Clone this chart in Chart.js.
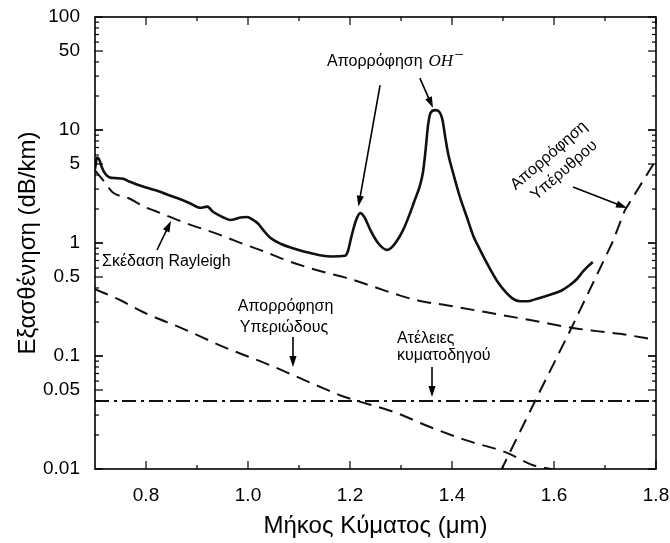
<!DOCTYPE html>
<html>
<head>
<meta charset="utf-8">
<script src="https://cdn.jsdelivr.net/npm/chart.js@4/dist/chart.umd.min.js"></script>
<style>
  html, body { margin: 0; padding: 0; background: #ffffff; }
  #wrap { width: 670px; height: 543px; }
</style>
</head>
<body>
<div id="wrap"><canvas id="loss" width="670" height="543"></canvas></div>
<script>
// Measured total attenuation of the fibre (µm, dB/km)
const wavelengthTotal = [0.700, 0.704, 0.708, 0.714, 0.720, 0.729, 0.740, 0.755, 0.767, 0.782, 0.800, 0.822, 0.840, 0.861, 0.886, 0.906, 0.920, 0.932, 0.950, 0.965, 0.985, 0.998, 1.010, 1.020, 1.030, 1.043, 1.065, 1.088, 1.115, 1.141, 1.165, 1.190, 1.196, 1.203, 1.212, 1.220, 1.228, 1.240, 1.255, 1.272, 1.285, 1.304, 1.318, 1.327, 1.336, 1.343, 1.348, 1.353, 1.358, 1.367, 1.375, 1.381, 1.387, 1.393, 1.402, 1.415, 1.429, 1.442, 1.455, 1.472, 1.490, 1.505, 1.520, 1.533, 1.548, 1.565, 1.580, 1.598, 1.615, 1.630, 1.645, 1.657, 1.668, 1.676];
const lossTotal = [4.5, 5.7, 5.5, 4.6, 4.1, 3.8, 3.75, 3.7, 3.5, 3.3, 3.1, 2.9, 2.7, 2.5, 2.25, 2.05, 2.1, 1.88, 1.7, 1.6, 1.68, 1.70, 1.6, 1.48, 1.30, 1.12, 0.98, 0.90, 0.83, 0.78, 0.76, 0.77, 0.85, 1.15, 1.6, 1.84, 1.7, 1.3, 1.0, 0.87, 0.95, 1.30, 1.85, 2.4, 3.1, 4.2, 6.5, 11, 14.2, 15.0, 14.5, 12.5, 8.5, 6.0, 4.2, 2.6, 1.70, 1.15, 0.87, 0.62, 0.45, 0.37, 0.32, 0.305, 0.305, 0.32, 0.335, 0.355, 0.38, 0.42, 0.48, 0.56, 0.63, 0.68];

// Rayleigh scattering
const wavelengthRayleigh = [0.700, 0.718, 0.735, 0.765, 0.798, 0.818, 0.873, 0.945, 0.996, 1.029, 1.069, 1.116, 1.157, 1.194, 1.292, 1.333, 1.392, 1.508, 1.553, 1.637, 1.684, 1.729, 1.800];
const lossRayleigh = [4.4, 3.5, 2.8, 2.5, 2.08, 1.92, 1.53, 1.18, 0.96, 0.85, 0.72, 0.61, 0.54, 0.49, 0.35, 0.31, 0.28, 0.226, 0.208, 0.177, 0.166, 0.157, 0.139];

// Ultraviolet absorption tail
const wavelengthUV = [0.700, 0.749, 0.794, 0.873, 0.953, 1.043, 1.078, 1.147, 1.180, 1.294, 1.347, 1.427, 1.508, 1.559, 1.594, 1.620];
const lossUV = [0.39, 0.313, 0.245, 0.174, 0.12, 0.083, 0.071, 0.052, 0.045, 0.031, 0.0245, 0.018, 0.0139, 0.0108, 0.0100, 0.0092];

// Infrared absorption edge
const wavelengthIR = [1.495, 1.563, 1.635, 1.714, 1.739, 1.795];
const lossIR = [0.0095, 0.04, 0.18, 1.0, 1.95, 5.0];

// Waveguide imperfections
const wavelengthDefects = [0.7, 1.8];
const lossDefects = [0.04, 0.04];

// Axis ticks
const xTickValues = [0.8, 1.0, 1.2, 1.4, 1.6, 1.8];
const xMinorValues = [0.9, 1.1, 1.3, 1.5, 1.7];
const yTickValues = [0.01, 0.05, 0.1, 0.5, 1, 5, 10, 50, 100];

const toPoints = (xs, ys) => xs.map((x, i) => ({ x: x, y: ys[i] }));
const FONT = '"Liberation Sans", Arial, sans-serif';
const SERIF = '"Liberation Serif", "DejaVu Serif", serif';
const INK = '#111111';

// Frame, inward ticks and annotations
const decorations = {
  id: 'decorations',
  afterDatasetsDraw(chart) {
    const { ctx, chartArea: a, scales: { x, y } } = chart;
    ctx.save();
    ctx.strokeStyle = '#000';
    ctx.lineWidth = 1.6;
    ctx.strokeRect(a.left, a.top, a.right - a.left, a.bottom - a.top);

    ctx.lineWidth = 1.2;
    const tick = (x1, y1, x2, y2) => { ctx.beginPath(); ctx.moveTo(x1, y1); ctx.lineTo(x2, y2); ctx.stroke(); };
    xTickValues.forEach(v => { const px = x.getPixelForValue(v); tick(px, a.bottom, px, a.bottom - 8); tick(px, a.top, px, a.top + 8); });
    xMinorValues.forEach(v => { const px = x.getPixelForValue(v); tick(px, a.bottom, px, a.bottom - 4); tick(px, a.top, px, a.top + 4); });
    for (let e = -2; e <= 1; e++) {
      for (let m = 1; m <= 10; m++) {
        const v = m * Math.pow(10, e);
        const py = y.getPixelForValue(v);
        const major = (m === 1 || m === 5 || m === 10);
        const len = major ? 8 : 4;
        tick(a.left, py, a.left + len, py);
        tick(a.right, py, a.right - len, py);
      }
    }

    const P = (wx, wy) => [x.getPixelForValue(wx), y.getPixelForValue(wy)];
    const arrow = (from, to) => {
      const [x1, y1] = P(from[0], from[1]);
      const [x2, y2] = P(to[0], to[1]);
      const ang = Math.atan2(y2 - y1, x2 - x1);
      const hl = 11, hw = 3.6;
      ctx.strokeStyle = '#000';
      ctx.fillStyle = '#000';
      ctx.lineWidth = 1.6;
      ctx.beginPath();
      ctx.moveTo(x1, y1);
      ctx.lineTo(x2 - Math.cos(ang) * hl * 0.8, y2 - Math.sin(ang) * hl * 0.8);
      ctx.stroke();
      ctx.beginPath();
      ctx.moveTo(x2, y2);
      ctx.lineTo(x2 - Math.cos(ang) * hl - Math.sin(ang) * hw, y2 - Math.sin(ang) * hl + Math.cos(ang) * hw);
      ctx.lineTo(x2 - Math.cos(ang) * hl + Math.sin(ang) * hw, y2 - Math.sin(ang) * hl - Math.cos(ang) * hw);
      ctx.closePath();
      ctx.fill();
    };
    const LABEL_FONT = '16px ' + FONT;
    const text = (s, wx, wy) => {
      const [px, py] = P(wx, wy);
      ctx.font = LABEL_FONT;
      ctx.fillStyle = '#000';
      ctx.textAlign = 'left';
      ctx.textBaseline = 'middle';
      ctx.fillText(s, px, py);
    };

    // OH⁻ absorption peaks
    text('Απορρόφηση', 1.155, 40);
    ctx.font = LABEL_FONT;
    const wA = ctx.measureText('Απορρόφηση').width + 6;
    {
      const [px, py] = P(1.155, 40);
      ctx.font = 'italic 17px ' + SERIF;
      ctx.textAlign = 'left';
      ctx.textBaseline = 'middle';
      ctx.fillText('OH', px + wA, py);
      const wOH = ctx.measureText('OH').width;
      ctx.font = '17px ' + SERIF;
      ctx.fillText('\u2212', px + wA + wOH + 1, py - 6);
    }
    arrow([1.259, 25], [1.2165, 2.1]);
    arrow([1.337, 28.8], [1.3627, 15.7]);

    // Rayleigh scattering
    text('Σκέδαση Rayleigh', 0.7137, 0.68);
    arrow([0.8216, 0.867], [0.849, 1.565]);

    // Ultraviolet absorption
    text('Απορρόφηση', 0.980, 0.271);
    text('Υπεριώδους', 0.984, 0.177);
    arrow([1.0882, 0.147], [1.0882, 0.080]);

    // Waveguide imperfections
    text('Ατέλειες', 1.292, 0.144);
    text('κυματοδηγού', 1.292, 0.100);
    arrow([1.3608, 0.080], [1.3608, 0.0434]);

    // Infrared absorption
    {
      const [cx, cy] = P(1.605, 5.1);
      ctx.save();
      ctx.translate(cx, cy);
      ctx.rotate(-41 * Math.PI / 180);
      ctx.font = LABEL_FONT;
      ctx.fillStyle = '#000';
      ctx.textAlign = 'center';
      ctx.textBaseline = 'middle';
      ctx.fillText('Απορρόφηση', -1, -10.5);
      ctx.fillText('Υπέρυθρου', 1, 10.5);
      ctx.restore();
    }
    arrow([1.6373, 3.13], [1.7431, 2.04]);

    // Axis titles
    ctx.fillStyle = '#000';
    ctx.font = '24px ' + FONT;
    ctx.textAlign = 'center';
    ctx.textBaseline = 'middle';
    ctx.fillText('Μήκος Κύματος (μm)', (a.left + a.right) / 2, 526);
    ctx.save();
    ctx.translate(28, (a.top + a.bottom) / 2);
    ctx.rotate(-Math.PI / 2);
    ctx.fillText('Εξασθένηση (dB/km)', 0, 0);
    ctx.restore();
    ctx.restore();
  }
};

const dashed = { borderColor: INK, borderWidth: 2, borderDash: [14, 8], pointRadius: 0, fill: false };

new Chart(document.getElementById('loss'), {
  type: 'line',
  data: {
    datasets: [
      { label: 'Total', data: toPoints(wavelengthTotal, lossTotal), borderColor: INK, borderWidth: 2.6, pointRadius: 0, cubicInterpolationMode: 'monotone', fill: false },
      Object.assign({ label: 'Rayleigh', data: toPoints(wavelengthRayleigh, lossRayleigh), cubicInterpolationMode: 'monotone' }, dashed),
      Object.assign({ label: 'UV', data: toPoints(wavelengthUV, lossUV), cubicInterpolationMode: 'monotone' }, dashed),
      Object.assign({ label: 'IR', data: toPoints(wavelengthIR, lossIR), tension: 0 }, dashed),
      { label: 'Defects', data: toPoints(wavelengthDefects, lossDefects), borderColor: INK, borderWidth: 2, borderDash: [14, 5, 3, 5], pointRadius: 0, fill: false }
    ]
  },
  options: {
    responsive: false,
    animation: false,
    devicePixelRatio: 1,
    layout: { padding: { left: 0, top: 17, right: 14, bottom: 0 } },
    plugins: { legend: { display: false }, tooltip: { enabled: false } },
    scales: {
      x: {
        type: 'linear', min: 0.7, max: 1.8,
        afterBuildTicks: s => { s.ticks = xTickValues.map(v => ({ value: v })); },
        afterFit: s => { s.height = 74; s.paddingLeft = 0; s.paddingRight = 0; },
        grid: { display: false, drawTicks: false },
        border: { display: false },
        ticks: { color: '#000', font: { family: FONT, size: 19 }, padding: 15, maxRotation: 0, callback: v => v.toFixed(1) }
      },
      y: {
        type: 'logarithmic', min: 0.01, max: 100,
        afterBuildTicks: s => { s.ticks = yTickValues.map(v => ({ value: v })); },
        afterFit: s => { s.width = 95; s.paddingTop = 0; s.paddingBottom = 0; },
        grid: { display: false, drawTicks: false },
        border: { display: false },
        ticks: { color: '#000', font: { family: FONT, size: 19 }, padding: 15, callback: v => String(v) }
      }
    }
  },
  plugins: [decorations]
});
</script>
</body>
</html>
